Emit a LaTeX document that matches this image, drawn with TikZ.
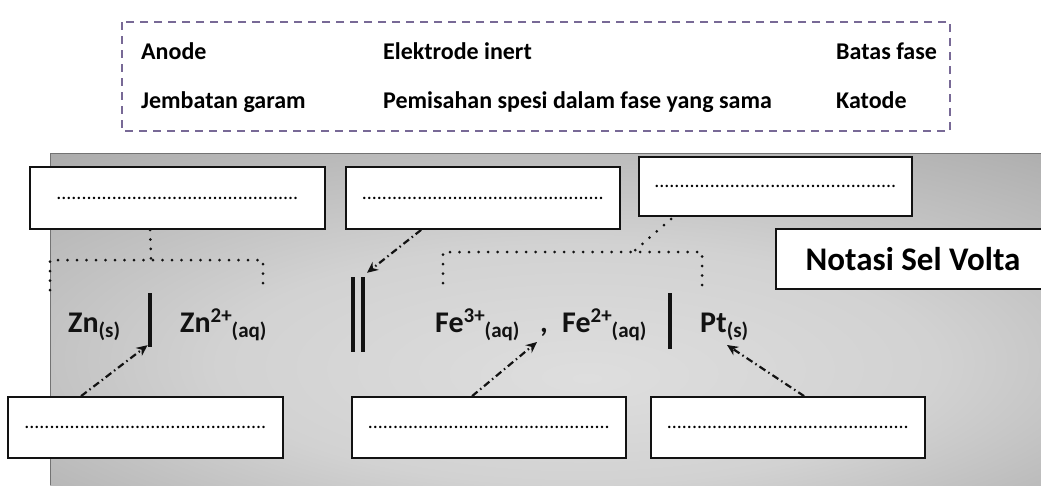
\documentclass[tikz,border=0pt]{standalone}
\usepackage{fontspec}
\setmainfont{Carlito}
\usetikzlibrary{arrows.meta,calc}
\definecolor{pA}{HTML}{DEDEDE}
\definecolor{pB}{HTML}{D2D2D2}
\definecolor{pC}{HTML}{B2B2B2}
\definecolor{pD}{HTML}{8C8C8C}
\definecolor{pE}{HTML}{5E5E5E}
\definecolor{legdash}{RGB}{120,105,150}
\definecolor{ink}{HTML}{121212}
\pgfdeclareradialshading{panelshade}{\pgfpoint{2bp}{-9bp}}{color(0bp)=(pA); color(18bp)=(pB); color(36bp)=(pC); color(54bp)=(pD); color(75bp)=(pE)}
\newcommand\fmain{\fontsize{30}{30}\selectfont\bfseries}
\newcommand\fsmall{\fontsize{21}{21}\selectfont\bfseries}
\newcommand\chsub[1]{\raisebox{-5pt}{\fsmall #1}}
\newcommand\chsup[1]{\raisebox{10pt}{\fsmall #1}}
\newcommand\blankdots{................................................}
\begin{document}
\begin{tikzpicture}[x=1pt,y=-1pt,
  legtext/.style={anchor=base west, inner sep=0pt, font=\fontsize{24}{28}\selectfont\bfseries},
  ansbox/.style={draw=ink, line width=1.8pt, fill=white, inner sep=0pt, font=\fontsize{20}{20}\selectfont},
  formula/.style={anchor=base west, inner sep=0pt, font=\fmain, text=ink},
  barnode/.style={fill=ink, draw=none, inner sep=0pt, minimum width=4.5pt},
  dotline/.style={line width=3pt, line cap=round, dash pattern=on 0pt off 9.5pt, ink},
  ddarrow/.style={line width=2.2pt, ink, dash pattern=on 7pt off 3.5pt on 1.5pt off 3.5pt, -{Stealth[length=11pt,width=10pt]}}]
\useasboundingbox (0,0) rectangle (1041,488);
\clip (0,0) rectangle (1041,488);
\fill[white] (0,0) rectangle (1041,488);
% panel
\path[shading=panelshade] (50,153) rectangle (1045,485);
\draw[black!55, line width=1pt] (50,485) -- (50,153) -- (1045,153);
% legend
\draw[legdash, line width=1.8pt, dash pattern=on 8pt off 6pt] (122,22) rectangle (950,131);
\node[legtext] (l1) at (141,59) {Anode};
\node[legtext] (l2) at (383,59) {Elektrode inert};
\node[legtext] (l3) at (836,59) {Batas fase};
\node[legtext] (l4) at (141,108) {Jembatan garam};
\node[legtext] (l5) at (383,108) {Pemisahan spesi dalam fase yang sama};
\node[legtext] (l6) at (836,108) {Katode};
% answer boxes
\node[ansbox, minimum width=295pt, minimum height=62pt] (b1) at (177.5,198) {\blankdots};
\node[ansbox, minimum width=274pt, minimum height=62pt] (b2) at (483,198) {\blankdots};
\node[ansbox, minimum width=273pt, minimum height=59pt] (b3) at (775.5,186.5) {\blankdots};
\node[ansbox, minimum width=275pt, minimum height=61pt] (b4) at (145.5,427.5) {\blankdots};
\node[ansbox, minimum width=274pt, minimum height=61pt] (b5) at (489,427.5) {\blankdots};
\node[ansbox, minimum width=274pt, minimum height=61pt] (b6) at (788,427.5) {\blankdots};
\node[ansbox, minimum width=274pt, minimum height=60pt, font=\fontsize{33}{33}\selectfont\bfseries] (title) at (913,259) {Notasi Sel Volta};
% formula
\node[formula] (zn) at (68,332) {Zn\chsub{(s)}};
\node[formula] (zn2) at (180,332) {Zn\chsup{2+}\chsub{(aq)}};
\node[formula] (fe3) at (435,332) {Fe\chsup{3+}\chsub{(aq)}};
\node[formula] (comma) at (540,332) {,};
\node[formula] (fe2) at (562,332) {Fe\chsup{2+}\chsub{(aq)}};
\node[formula] (pt) at (700,332) {Pt\chsub{(s)}};
\node[barnode, minimum height=54pt] (bar1) at (150,320) {};
\node[barnode, minimum height=75pt] (bar2a) at (353,314.5) {};
\node[barnode, minimum height=75pt] (bar2b) at (363,314.5) {};
\node[barnode, minimum height=56pt] (bar3) at (670,321) {};
% dotted brackets
\coordinate (znJ) at (151,260);
\coordinate (znL) at (50,260);
\coordinate (znR) at (263,260);
\coordinate (znLe) at (50,290);
\coordinate (znRe) at (263,290);
\draw[dotline] ($(b1.south west)+(121,0)$) -- (znJ);
\draw[dotline] (znLe) -- (znL) -- (znR) -- (znRe);
\coordinate (feJ) at (633,252);
\coordinate (feL) at (443,252);
\coordinate (feR) at (702,252);
\coordinate (feLe) at (443,283);
\coordinate (feRe) at (702,290);
\draw[dotline] ($(b3.south west)+(33,2)$) -- (feJ);
\draw[dotline] (feLe) -- (feL) -- (feR) -- (feRe);
% dash-dot arrows
\draw[ddarrow] ($(b4.north west)+(74,0)$) -- ($(bar1.south west)+(0,-2)$);
\draw[ddarrow] ($(b5.north west)+(121,0)$) -- ($(comma.base west)+(-3,10)$);
\draw[ddarrow] ($(b6.north west)+(154,0)$) -- ($(pt.base west)+(27,13)$);
\draw[ddarrow] ($(b2.south west)+(76,0)$) -- ($(bar2b.north)+(4,-4)$);
\end{tikzpicture}
\end{document}
